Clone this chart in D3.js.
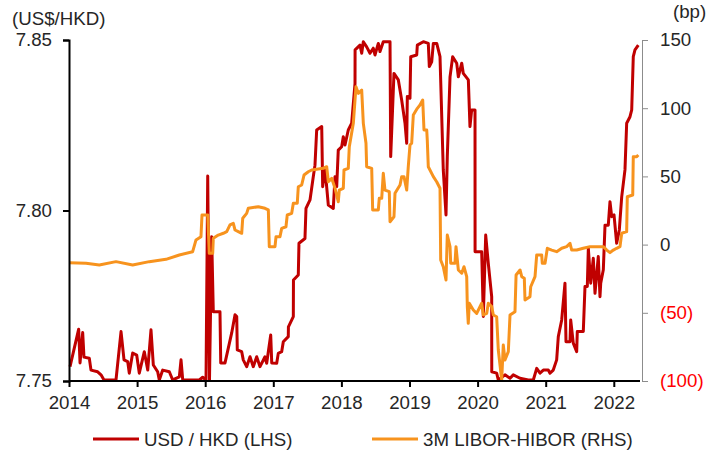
<!DOCTYPE html>
<html>
<head>
<meta charset="utf-8">
<script src="https://cdn.jsdelivr.net/npm/d3@7"></script>
<style>
  body { margin: 0; background: #fff; }
  svg text { font-family: "Liberation Sans", Arial, sans-serif; }
</style>
</head>
<body>
<div class="chart"></div>
<script>
// x positions are in decimal years
var usdYears = [2014.015,2014.142,2014.162,2014.201,2014.220,2014.298,2014.323,2014.421,2014.470,2014.514,
  2014.690,2014.764,2014.808,2014.862,2014.885,2014.935,2014.994,2015.032,2015.106,2015.156,
  2015.204,2015.238,2015.302,2015.326,2015.376,2015.473,2015.523,2015.620,2015.645,2015.670,
  2015.913,2015.963,2016.012,2016.037,2016.063,2016.095,2016.119,2016.217,2016.228,2016.291,
  2016.389,2016.438,2016.463,2016.471,2016.536,2016.559,2016.609,2016.658,2016.706,2016.756,
  2016.805,2016.878,2016.903,2016.962,2016.977,2017.050,2017.073,2017.123,2017.147,2017.220,
  2017.222,2017.294,2017.296,2017.367,2017.377,2017.465,2017.480,2017.539,2017.587,2017.612,
  2017.637,2017.711,2017.725,2017.759,2017.808,2017.881,2017.906,2017.931,2017.954,2018.004,
  2018.028,2018.053,2018.101,2018.151,2018.200,2018.201,2018.273,2018.298,2018.322,2018.371,
  2018.420,2018.468,2018.493,2018.542,2018.567,2018.615,2018.714,2018.724,2018.772,2018.836,
  2018.885,2018.934,2018.959,2018.968,2019.007,2019.018,2019.106,2019.115,2019.203,2019.276,
  2019.291,2019.326,2019.350,2019.400,2019.448,2019.496,2019.536,2019.555,2019.595,2019.634,
  2019.693,2019.717,2019.767,2019.790,2019.864,2019.888,2019.913,2019.962,2019.963,2020.060,
  2020.084,2020.119,2020.157,2020.207,2020.208,2020.280,2020.304,2020.402,2020.476,2020.524,
  2020.623,2020.744,2020.818,2020.868,2020.916,2020.965,2021.038,2021.063,2021.111,2021.161,
  2021.185,2021.235,2021.283,2021.298,2021.357,2021.367,2021.405,2021.455,2021.464,2021.552,
  2021.577,2021.611,2021.626,2021.661,2021.699,2021.724,2021.772,2021.797,2021.808,2021.846,
  2021.871,2021.919,2021.944,2021.969,2022.003,2022.042,2022.081,2022.116,2022.164,2022.189,
  2022.238,2022.263,2022.286,2022.311,2022.360];
var usdValues = [7.7542,7.7652,7.7553,7.7642,7.7570,7.7567,7.7532,7.7527,7.7518,7.7503,
  7.7503,7.7645,7.7562,7.7557,7.7523,7.7582,7.7576,7.7523,7.7586,7.7532,
  7.7650,7.7547,7.7527,7.7503,7.7532,7.7527,7.7503,7.7512,7.7562,7.7503,
  7.7503,7.7511,7.7503,7.8101,7.7503,7.7923,7.7703,7.7703,7.7553,7.7553,
  7.7641,7.7694,7.7689,7.7591,7.7586,7.7562,7.7542,7.7571,7.7542,7.7571,
  7.7542,7.7571,7.7552,7.7635,7.7553,7.7552,7.7581,7.7586,7.7615,7.7630,
  7.7659,7.7689,7.7796,7.7811,7.7904,7.7918,7.8006,7.8031,7.8099,7.8133,
  7.8236,7.8246,7.8070,7.8124,7.8016,7.8006,7.8099,7.8070,7.8177,7.8187,
  7.8216,7.8192,7.8236,7.8256,7.8373,7.8471,7.8485,7.8461,7.8495,7.8480,
  7.8461,7.8476,7.8456,7.8490,7.8466,7.8495,7.8495,7.8158,7.8402,7.8383,
  7.8324,7.8256,7.8197,7.8334,7.8329,7.8451,7.8456,7.8485,7.8495,7.8490,
  7.8422,7.8436,7.8490,7.8490,7.8451,7.8119,7.7987,7.8158,7.8392,7.8451,
  7.8432,7.8392,7.8432,7.8402,7.8383,7.8246,7.8295,7.8295,7.7879,7.7879,
  7.7689,7.7928,7.7845,7.7747,7.7527,7.7523,7.7503,7.7518,7.7508,7.7518,
  7.7508,7.7503,7.7503,7.7537,7.7523,7.7532,7.7532,7.7523,7.7532,7.7562,
  7.7630,7.7679,7.7787,7.7615,7.7615,7.7679,7.7611,7.7586,7.7645,7.7645,
  7.7777,7.7777,7.7889,7.7787,7.7860,7.7757,7.7865,7.7747,7.7787,7.7826,
  7.7957,7.7957,7.8026,7.7982,7.7987,7.7904,7.7943,7.8040,7.8119,7.8256,
  7.8275,7.8295,7.8451,7.8471,7.8485];

var spreadYears = [2014.004,2014.250,2014.445,2014.690,2014.935,2015.179,2015.424,2015.620,2015.816,2015.865,
  2015.938,2015.953,2016.037,2016.060,2016.110,2016.119,2016.192,2016.266,2016.316,2016.364,
  2016.413,2016.438,2016.486,2016.536,2016.551,2016.609,2016.633,2016.780,2016.878,2016.927,
  2016.941,2017.025,2017.040,2017.098,2017.123,2017.186,2017.205,2017.270,2017.294,2017.352,
  2017.367,2017.417,2017.451,2017.514,2017.564,2017.734,2017.784,2017.808,2017.858,2017.906,
  2017.954,2017.969,2018.028,2018.038,2018.101,2018.116,2018.175,2018.214,2018.248,2018.298,
  2018.322,2018.361,2018.371,2018.445,2018.459,2018.542,2018.556,2018.592,2018.615,2018.640,
  2018.703,2018.714,2018.772,2018.787,2018.861,2018.885,2018.919,2018.959,2018.982,2019.007,
  2019.032,2019.056,2019.115,2019.154,2019.194,2019.213,2019.253,2019.261,2019.276,2019.350,
  2019.399,2019.448,2019.458,2019.496,2019.536,2019.555,2019.595,2019.605,2019.668,2019.683,
  2019.717,2019.767,2019.800,2019.840,2019.849,2019.863,2019.878,2019.937,2019.987,2020.060,
  2020.084,2020.134,2020.157,2020.207,2020.231,2020.280,2020.304,2020.354,2020.377,2020.402,
  2020.451,2020.476,2020.549,2020.565,2020.623,2020.648,2020.686,2020.696,2020.769,2020.780,
  2020.843,2020.868,2020.941,2020.950,2020.990,2021.024,2021.088,2021.161,2021.235,2021.308,
  2021.357,2021.382,2021.455,2021.552,2021.650,2021.749,2021.846,2021.896,2021.944,2021.993,
  2022.042,2022.091,2022.116,2022.189,2022.198,2022.278,2022.286,2022.336,2022.360];
var spreadValues = [-13.3,-13.7,-15.0,-12.5,-15.0,-12.5,-10.8,-7.6,-5.2,3.4,
  5.8,21.7,21.7,-6.4,-6.4,4.6,7.0,8.3,9.5,14.4,
  15.6,10.7,9.5,8.3,19.3,22.9,26.6,27.8,26.6,25.4,
  -1.5,-1.5,5.8,5.8,11.9,13.1,21.7,22.9,30.3,30.3,
  42.4,43.7,51.0,53.4,54.7,55.9,57.1,46.1,48.6,41.3,
  31.4,40.0,41.3,54.7,55.9,71.8,88.9,115.8,110.9,113.3,
  88.9,74.3,57.1,55.9,25.4,25.4,33.9,33.9,52.3,40.0,
  38.8,16.8,20.4,37.6,43.7,49.8,49.8,40.0,57.1,73.0,
  74.3,95.0,99.9,102.3,106.0,84.0,84.0,76.7,57.1,49.8,
  46.1,41.3,-11.3,-16.2,-26.0,7.0,-1.5,-13.7,-13.7,-1.5,
  -18.6,-21.0,-16.2,-23.5,-45.5,-57.7,-43.0,-47.9,-50.4,-43.0,
  -51.6,-50.4,-43.0,-45.5,-51.6,-52.9,-77.3,-99.3,-73.6,-84.6,
  -78.5,-51.6,-49.2,-22.3,-18.6,-23.5,-24.7,-40.6,-38.2,-30.9,
  -23.5,-7.6,-7.6,-13.7,-13.7,-2.7,-4.0,-5.2,-2.7,-1.5,
  0.9,-4.0,-4.0,-2.7,-1.5,-1.5,-1.5,-4.0,-5.9,-4.0,
  -2.7,-1.5,8.3,9.5,35.1,36.4,64.4,64.4,65.7];

var yearTicks = [2014, 2015, 2016, 2017, 2018, 2019, 2020, 2021, 2022];
var usdTicks = [7.75, 7.80, 7.85];
var bpTicks = [-100, -50, 0, 50, 100, 150];

(function () {
  var red = "#c00000", orange = "#f7931e", textColor = "#262626", fontSize = "18.7px";

  var W = 724, H = 454;
  var mLeft = 69, mRight = 642, mTop = 40, mBottom = 381;

  var svg = d3.select(".chart").append("svg")
    .attr("width", W)
    .attr("height", H);

  var x = d3.scaleLinear().domain([2014, 2014 + (mRight - mLeft) / 68.1]).range([mLeft, mRight]),
    yL = d3.scaleLinear().domain([7.75, 7.85]).range([mBottom, mTop]),
    yR = d3.scaleLinear().domain([-100, 150]).range([mBottom, mTop]);

  var usd = usdYears.map(function (t, i) { return {t: t, v: usdValues[i]}; });
  var spread = spreadYears.map(function (t, i) { return {t: t, v: spreadValues[i]}; });

  // right axis (grey)
  var gR = svg.append("g")
    .attr("transform", "translate(" + mRight + ",0)")
    .call(d3.axisRight(yR).tickValues(bpTicks).tickSize(6).tickPadding(12)
      .tickFormat(function (d) { return d < 0 ? "(" + (-d) + ")" : d; }));
  gR.select(".domain").attr("stroke", "#8c8c8c");
  gR.selectAll(".tick line").attr("stroke", "#8c8c8c");
  gR.selectAll(".tick text")
    .style("font-size", fontSize)
    .attr("fill", function (d) { return d < 0 ? "#ff0000" : textColor; });

  // lines
  var lineL = d3.line()
    .x(function (d) { return x(d.t); })
    .y(function (d) { return yL(d.v); });
  var lineR = d3.line()
    .x(function (d) { return x(d.t); })
    .y(function (d) { return yR(d.v); });

  svg.append("path")
    .datum(usd)
    .attr("d", lineL)
    .style("fill", "none")
    .style("stroke", red)
    .style("stroke-width", 3)
    .style("stroke-linejoin", "round");

  svg.append("path")
    .datum(spread)
    .attr("d", lineR)
    .style("fill", "none")
    .style("stroke", orange)
    .style("stroke-width", 3)
    .style("stroke-linejoin", "round");

  // left axis
  var gL = svg.append("g")
    .attr("transform", "translate(" + mLeft + ",0)")
    .call(d3.axisLeft(yL).tickValues(usdTicks).tickSize(6).tickPadding(11).tickFormat(d3.format(".2f")));
  gL.select(".domain").attr("stroke", "#000").attr("stroke-width", 2);
  gL.selectAll(".tick line").attr("stroke", "#000").attr("stroke-width", 2);
  gL.selectAll(".tick text").style("font-size", fontSize).attr("fill", textColor);

  // bottom axis
  var gX = svg.append("g")
    .attr("transform", "translate(0," + mBottom + ")")
    .call(d3.axisBottom(x).tickValues(yearTicks).tickSize(6).tickPadding(9).tickFormat(d3.format("d")));
  gX.select(".domain").attr("stroke", "#000").attr("stroke-width", 2).attr("d", "M" + mLeft + ",0H" + (mRight - 2));
  gX.selectAll(".tick line").attr("stroke", "#000").attr("stroke-width", 2);
  gX.selectAll(".tick text").style("font-size", fontSize).attr("fill", textColor);

  // unit labels
  svg.append("text").attr("x", 12).attr("y", 25)
    .style("font-size", fontSize).attr("fill", textColor).text("(US$/HKD)");
  svg.append("text").attr("x", 673).attr("y", 18)
    .style("font-size", fontSize).attr("fill", textColor).text("(bp)");

  // legend
  var legend = [
    {name: "USD / HKD (LHS)", color: red, x: 93},
    {name: "3M LIBOR-HIBOR (RHS)", color: orange, x: 372}
  ];
  var lg = svg.selectAll(".legend").data(legend).enter().append("g").attr("class", "legend");
  lg.append("line")
    .attr("x1", function (d) { return d.x; })
    .attr("x2", function (d) { return d.x + 46; })
    .attr("y1", 439).attr("y2", 439)
    .style("stroke", function (d) { return d.color; })
    .style("stroke-width", 3);
  lg.append("text")
    .attr("x", function (d) { return d.x + 51; })
    .attr("y", 446)
    .style("font-size", fontSize)
    .attr("fill", textColor)
    .text(function (d) { return d.name; });
})();
</script>
</body>
</html>
